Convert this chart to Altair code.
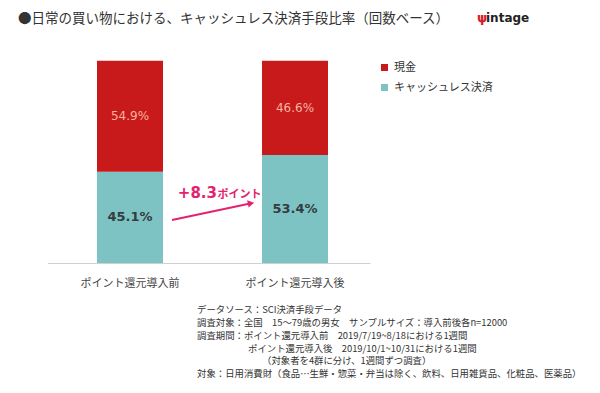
import altair as alt
import pandas as pd

# ---- data ----
categories = ["ポイント還元導入前", "ポイント還元導入後"]
series = ["現金", "キャッシュレス決済"]
cash_values = [54.9, 46.6]
cashless_values = [45.1, 53.4]
series_colors = ["#c81a1a", "#7ec3c4"]

title_text = "●日常の買い物における、キャッシュレス決済手段比率（回数ベース）"
change_value = "+8.3"
change_unit = "ポイント"
footnote_lines = [
    "データソース：SCI決済手段データ",
    "調査対象：全国　15～79歳の男女　サンプルサイズ：導入前後各n=12000",
    "調査期間：ポイント還元導入前　2019/7/19~8/18における1週間",
    "ポイント還元導入後　2019/10/1~10/31における1週間",
    "（対象者を4群に分け、1週間ずつ調査）",
    "対象：日用消費財（食品…生鮮・惣菜・弁当は除く、飲料、日用雑貨品、化粧品、医薬品）",
]

rows = []
for i, c in enumerate(categories):
    rows.append({"category": c, "method": series[1], "value": cashless_values[i], "order": 0})
    rows.append({"category": c, "method": series[0], "value": cash_values[i], "order": 1})
df = pd.DataFrame(rows)
one = pd.DataFrame({"k": [0]})

JP = "Noto Sans CJK JP"
LAT = "DejaVu Sans"
TXT = "#333333"
PINK = "#e3236f"

x_scale = alt.Scale(domain=categories, range=[39.5, 362], paddingInner=0.6,
                    paddingOuter=0.2773, align=0.541)
y_scale = alt.Scale(domain=[0, 100], range=[255, 52.7], nice=False)

x_enc = alt.X(
    "category:N", scale=x_scale, sort=categories, title=None,
    axis=alt.Axis(labelAngle=0, ticks=False, tickSize=0, labelPadding=14, labelFont=JP,
                  labelFontSize=11, labelColor="#444444", domainColor="#d0d0d0",
                  domainWidth=1, grid=False),
)

bars = alt.Chart(df).mark_bar().encode(
    x=x_enc,
    y=alt.Y("value:Q", stack="zero", scale=y_scale, axis=None),
    color=alt.Color(
        "method:N",
        scale=alt.Scale(domain=series, range=series_colors),
        legend=alt.Legend(orient="none", legendX=371, legendY=54, title=None,
                          symbolType="square", symbolSize=49, symbolStrokeWidth=0,
                          labelFont=JP, labelFontSize=11, labelColor=TXT,
                          labelOffset=4, rowPadding=8, padding=0),
    ),
    order=alt.Order("order:Q"),
)

stacked = (
    alt.Chart(df)
    .transform_stack(stack="value", as_=["v0", "v1"], groupby=["category"],
                     sort=[alt.SortField("order")])
    .transform_calculate(mid="(datum.v0 + datum.v1) / 2",
                         label="format(datum.value, '.1f') + '%'")
)

cash_labels = stacked.transform_filter(alt.datum.method == series[0]).mark_text(
    font=LAT, fontSize=12, color="#f7b3a3", baseline="middle"
).encode(x=alt.X("category:N", scale=x_scale, sort=categories),
         y=alt.Y("mid:Q", scale=y_scale), text="label:N")

cashless_labels = stacked.transform_filter(alt.datum.method == series[1]).mark_text(
    font=LAT, fontSize=13, fontWeight="bold", color="#333d40", baseline="middle"
).encode(x=alt.X("category:N", scale=x_scale, sort=categories),
         y=alt.Y("mid:Q", scale=y_scale), text="label:N")

arrow_line = alt.Chart(one).mark_rule(color=PINK, strokeWidth=2).encode(
    x=alt.value(164), y=alt.value(212), x2=alt.value(241), y2=alt.value(195.8))
arrow_head = alt.Chart(one).mark_point(shape="triangle-right", filled=True, color=PINK,
                                       size=55, angle=348, opacity=1).encode(
    x=alt.value(243), y=alt.value(195.3))

change_num = alt.Chart(one).mark_text(font=LAT, fontSize=15, fontWeight="bold", color=PINK,
                                      align="right", baseline="alphabetic").encode(
    x=alt.value(209), y=alt.value(190), text=alt.value(change_value))
change_txt = alt.Chart(one).mark_text(font=JP, fontSize=11, fontWeight="bold", color=PINK,
                                      align="left", baseline="alphabetic").encode(
    x=alt.value(209.5), y=alt.value(190), text=alt.value(change_unit))

title = alt.Chart(one).mark_text(font=JP, fontSize=13.5, color=TXT, align="left",
                                 baseline="middle").encode(
    x=alt.value(10), y=alt.value(10.5), text=alt.value(title_text))

logo_icon = alt.Chart(one).mark_text(font=LAT, fontSize=13, fontWeight="bold", color="#d81e2a",
                                     align="left", baseline="middle").encode(
    x=alt.value(469), y=alt.value(10), text=alt.value("ψ"))
logo_txt = alt.Chart(one).mark_text(font=LAT, fontSize=12, fontWeight="bold", color="#222222",
                                    align="left", baseline="middle").encode(
    x=alt.value(478), y=alt.value(9.5), text=alt.value("intage"))

foot_x = [189, 189, 189, 240, 254, 189]
foot_y = [302, 315, 328, 340.5, 353, 366]
foot_layers = []
for line, fx, fy in zip(footnote_lines, foot_x, foot_y):
    foot_layers.append(
        alt.Chart(one).mark_text(font=JP, fontSize=9.4, color=TXT, align="left",
                                 baseline="middle").encode(
            x=alt.value(fx), y=alt.value(fy), text=alt.value(line))
    )

chart = alt.layer(
    bars, cash_labels, cashless_labels, arrow_line, arrow_head, change_num, change_txt,
    title, logo_icon, logo_txt, *foot_layers,
).properties(
    width=584, height=255,
    background="white",
    autosize=alt.AutoSizeParams(type="none"),
    padding={"left": 0, "top": 0, "right": 0, "bottom": 122},
).configure_view(stroke=None)

chart.save("out.html", embed_options={"renderer": "svg", "actions": False})
